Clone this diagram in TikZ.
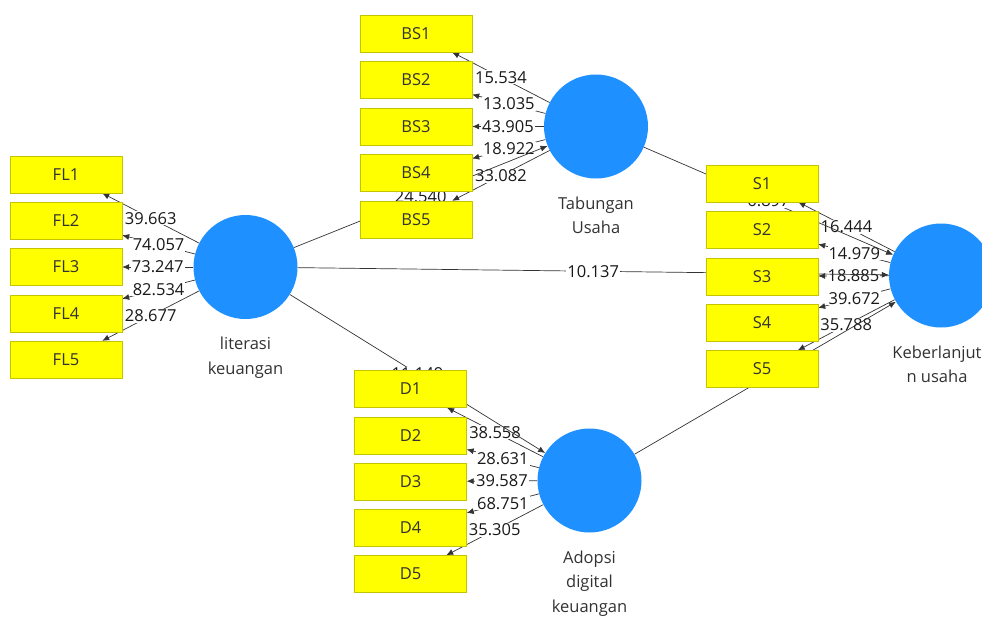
\documentclass[tikz,border=0pt]{standalone}
\usepackage{fontspec}
\setmainfont{Open Sans}
\usetikzlibrary{arrows.meta, positioning}
\pgfdeclarelayer{edges}
\pgfsetlayers{edges,main}
\definecolor{boxyellow}{RGB}{255,255,0}
\definecolor{boxedge}{RGB}{196,196,0}
\definecolor{latentblue}{RGB}{30,144,255}
\definecolor{textgray}{RGB}{50,50,50}

\begin{document}
\begin{tikzpicture}[x=1pt, y=-1pt, font=\fontsize{16.5}{24.5}\selectfont,
  indicator/.style={draw=boxedge, fill=boxyellow, minimum width=112pt,
    minimum height=37pt, inner sep=0pt, text=textgray},
  latent/.style={circle, fill=latentblue, minimum size=104pt, inner sep=0pt},
  caption/.style={align=center, text=textgray, inner sep=0pt},
  link/.style={draw=black!80, line width=0.7pt, -{Latex[length=7pt,width=6pt]}},
  tval/.style={fill=white, inner sep=1pt, text=black!90}]
\useasboundingbox (0,0) rectangle (982,616);
% Latent variables
\node[latent] (lit) at (245.5,267) {};
\node[latent] (tab) at (596,126.5) {};
\node[latent] (adp) at (589.5,480.5) {};
\node[latent] (keb) at (941,275.5) {};
% Captions
\node[caption, below=18pt of lit] (litcap) {literasi\\keuangan};
\node[caption, below=18pt of tab] (tabcap) {Tabungan\\Usaha};
\node[caption, below=18pt of adp] (adpcap) {Adopsi\\digital\\keuangan};
\node[caption, below=18pt of keb, xshift=-4pt] (kebcap) {Keberlanjut\\n usaha};
% Indicators
\foreach \i in {1,...,5} {
  \node[indicator] (FL\i) at (66,{128.25+46.25*\i}) {FL\i};
  \node[indicator] (BS\i) at (416,{-13+46.5*\i}) {BS\i};
  \node[indicator] (S\i) at (762,{137+46.4*\i}) {S\i};
  \node[indicator] (D\i) at (410.5,{342.75+46.25*\i}) {D\i};
}
\begin{pgfonlayer}{edges}
% Outer loadings
\foreach \i/\t in {1/39.663, 2/74.057, 3/73.247, 4/82.534, 5/28.677}
  \draw[link] (lit) -- node[tval] {\t} (FL\i);
\foreach \i/\t in {1/15.534, 2/13.035, 3/43.905, 4/18.922, 5/33.082}
  \draw[link] (tab) -- node[tval] {\t} (BS\i);
\foreach \i/\t in {1/16.444, 2/14.979, 3/18.885, 4/39.672, 5/35.788}
  \draw[link] (keb) -- node[tval] {\t} (S\i);
\foreach \i/\t in {1/38.558, 2/28.631, 3/39.587, 4/68.751, 5/35.305}
  \draw[link] (adp) -- node[tval] {\t} (D\i);
% Inner paths
\draw[link] (lit) -- node[tval] {24.540} (tab);
\draw[link] (lit) -- node[tval] {10.137} (keb);
\draw[link] (lit) -- node[tval] {11.149} (adp);
\draw[link] (tab) -- node[tval] {6.897} (keb);
\draw[link] (adp) -- (keb);
\end{pgfonlayer}
\end{tikzpicture}
\end{document}
